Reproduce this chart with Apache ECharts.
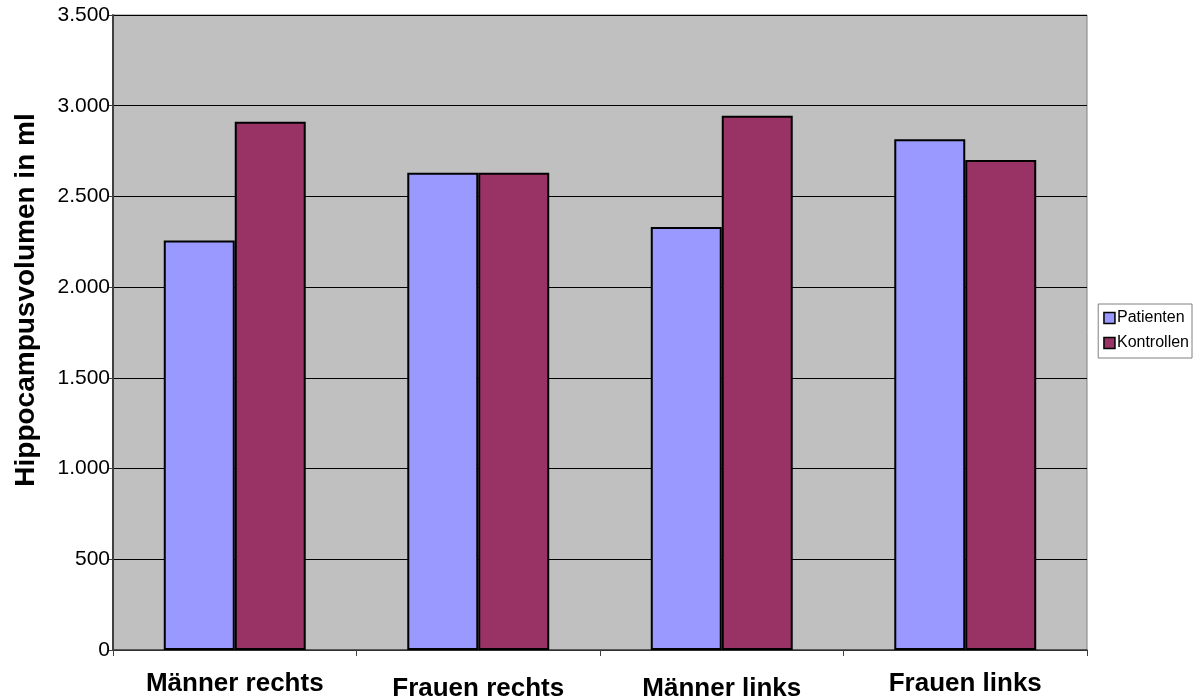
<!DOCTYPE html>
<html>
<head>
<meta charset="utf-8">
<script src="https://cdn.jsdelivr.net/npm/echarts@6/dist/echarts.min.js"></script>
<style>
html, body { margin: 0; padding: 0; background: #ffffff; }
#chart { width: 1196px; height: 696px; }
</style>
</head>
<body>
<div id="chart"></div>
<script>
// Hippocampus volume per group and side
const categories = ['Männer rechts', 'Frauen rechts', 'Männer links', 'Frauen links'];
const patienten = [2257, 2630, 2332, 2815];
const kontrollen = [2912, 2630, 2945, 2701];
const yTicks = { min: 0, max: 3500, step: 500 };
const yTitle = 'Hippocampusvolumen in ml';

// German number formatting (dot as thousands separator)
function fmt(v) {
  return String(v).replace(/\B(?=(\d{3})+(?!\d))/g, '.');
}

const FONT = 'Liberation Sans, Arial, sans-serif';
const chart = echarts.init(document.getElementById('chart'), null, { renderer: 'canvas' });

const catData = categories.map(function (c, i) {
  // Alternate labels sit slightly lower
  return { value: c, textStyle: { padding: [(i === 1 || i === 2) ? 5 : 0, 0, 0, 0] } };
});

chart.setOption({
  animation: false,
  backgroundColor: '#ffffff',
  textStyle: { fontFamily: FONT },
  grid: {
    left: 113, top: 15, right: 109, bottom: 46,
    outerBoundsMode: 'none',
    containLabel: false,
    show: true,
    backgroundColor: '#C0C0C0',
    borderColor: '#808080',
    borderWidth: 1
  },
  legend: {
    orient: 'vertical',
    right: 4,
    top: 304,
    backgroundColor: '#ffffff',
    borderColor: '#808080',
    borderWidth: 1,
    padding: [6, 3, 7, 5],
    icon: 'rect',
    itemWidth: 11,
    itemHeight: 11,
    itemGap: 9,
    itemStyle: { borderColor: '#000000', borderWidth: 1.5 },
    textStyle: { fontSize: 16, color: '#000000', fontFamily: FONT, padding: [0, 0, 0, -3] },
    data: ['Patienten', 'Kontrollen']
  },
  graphic: [{
    type: 'text',
    x: 26,
    y: 300,
    rotation: Math.PI / 2,
    style: {
      text: yTitle,
      fill: '#000000',
      font: 'bold 28px ' + FONT,
      align: 'center',
      verticalAlign: 'middle'
    }
  }],
  xAxis: {
    type: 'category',
    data: catData,
    axisLine: { show: true, lineStyle: { color: '#404040', width: 1.5 } },
    axisTick: { show: true, length: 6, lineStyle: { color: '#404040' } },
    axisLabel: {
      color: '#000000',
      fontSize: 26,
      fontWeight: 'bold',
      margin: 21,
      interval: 0,
      fontFamily: FONT
    },
    splitLine: { show: false }
  },
  yAxis: {
    type: 'value',
    min: yTicks.min,
    max: yTicks.max,
    interval: yTicks.step,
    axisLine: { show: true, lineStyle: { color: '#404040', width: 2 } },
    axisTick: { show: true, length: 5, lineStyle: { color: '#404040' } },
    axisLabel: {
      color: '#000000',
      fontSize: 21,
      margin: 3,
      formatter: fmt,
      fontFamily: FONT
    },
    splitLine: { show: true, lineStyle: { color: '#000000', width: 1 } }
  },
  series: [
    {
      name: 'Patienten',
      type: 'bar',
      data: patienten,
      barGap: '0%',
      barCategoryGap: '41.7%',
      itemStyle: { color: '#9999FF', borderColor: '#000000', borderWidth: 2 }
    },
    {
      name: 'Kontrollen',
      type: 'bar',
      data: kontrollen,
      barGap: '0%',
      barCategoryGap: '41.7%',
      itemStyle: { color: '#993366', borderColor: '#000000', borderWidth: 2 }
    }
  ]
});
</script>
</body>
</html>
